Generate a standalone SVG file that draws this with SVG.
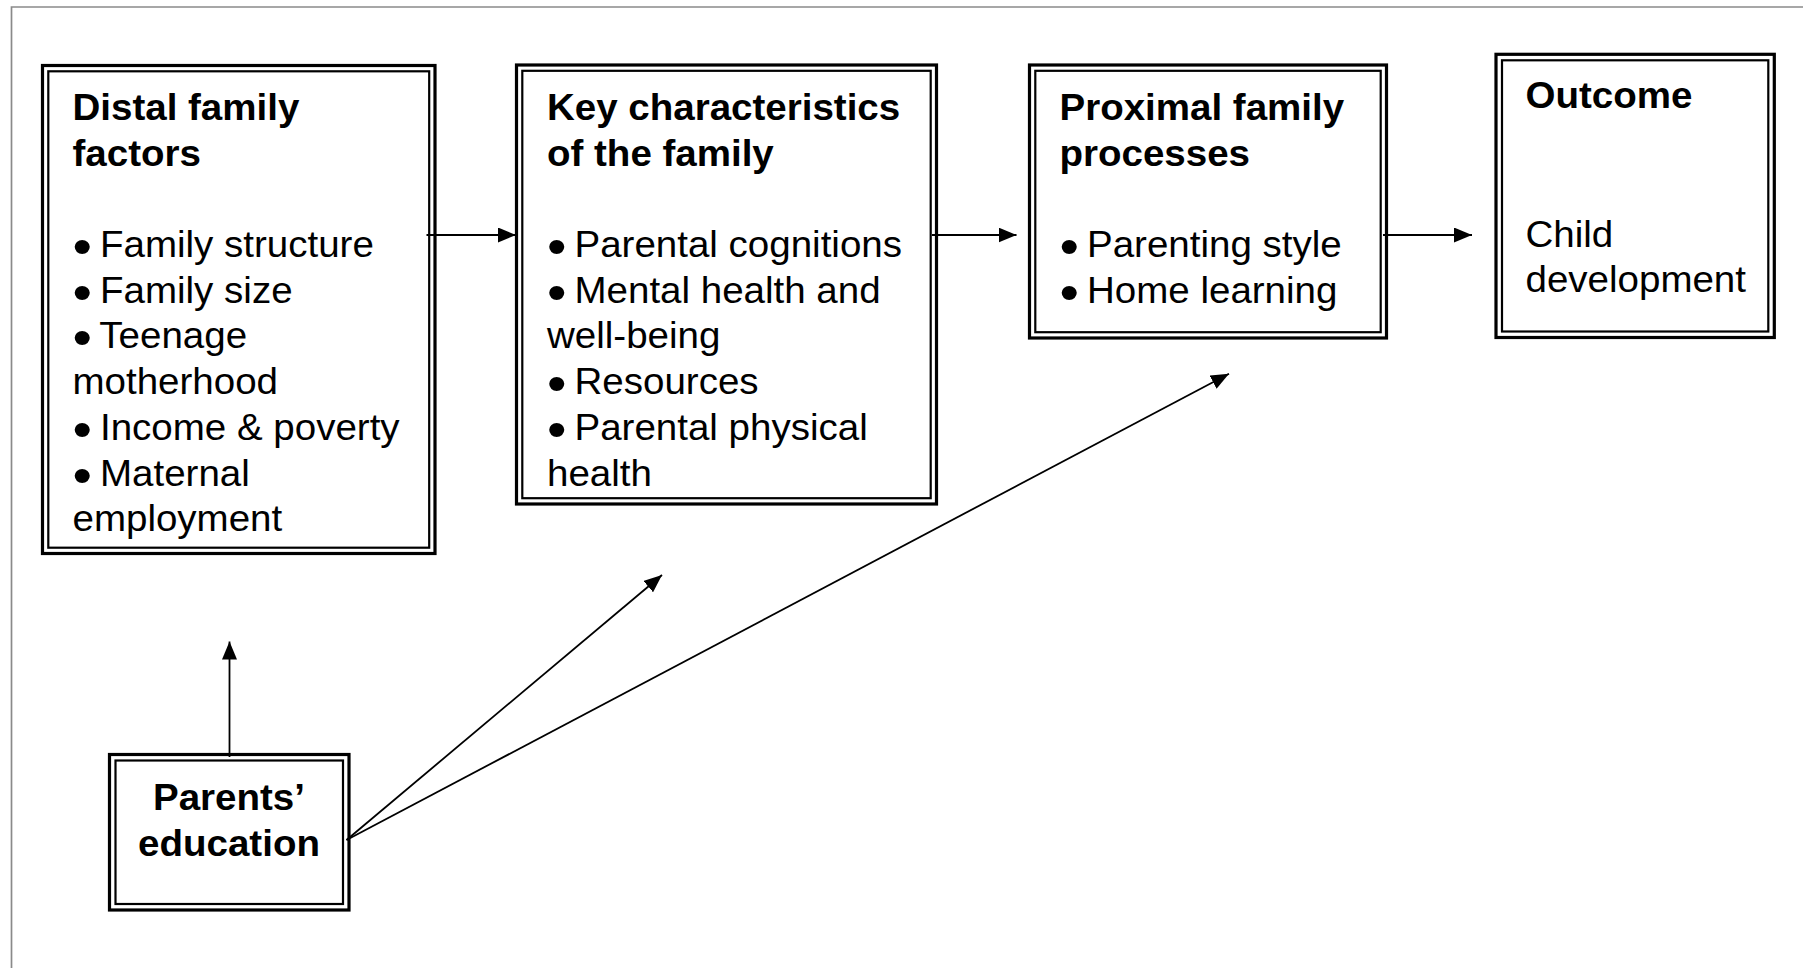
<svg xmlns="http://www.w3.org/2000/svg" width="1803" height="968" viewBox="0 0 1803 968">
<style>
.bg{fill:#ffffff}
.frame{fill:none;stroke:#8a8a8a;stroke-width:1.7}
.ob{fill:#ffffff;stroke:#000;stroke-width:3.2}
.ib{fill:none;stroke:#000;stroke-width:2.2}
.t{font-family:"Liberation Sans",Arial,sans-serif;font-size:36px;fill:#000}
.b{font-weight:bold}
.bl{font-size:52px}
.c{stroke:#000;stroke-width:1.8;fill:none;marker-end:url(#ah)}
</style>
<defs>
<marker id="ah" viewBox="0 0 18 15" refX="18" refY="7.5" markerWidth="18" markerHeight="15" markerUnits="userSpaceOnUse" orient="auto">
<path d="M0,0 L18,7.5 L0,15 z" fill="#000"/>
</marker>
</defs>
<rect class="bg" x="0" y="0" width="1803" height="968"/>
<path class="frame" d="M11.5,968 V7 H1803"/>

<g id="distal">
<rect class="ob" x="42.5" y="65.5" width="392.5" height="488"/>
<rect class="ib" x="48.3" y="71.3" width="380.9" height="476.4"/>
<g transform="translate(72.5,0) scale(1.07,1)">
<text class="t b" x="0" y="120">Distal family</text>
<text class="t b" x="0" y="165.7">factors</text>
<text class="t" x="0" y="257"><tspan class="bl" dy="7">•</tspan><tspan dy="-7" dx="-2.5"> Family structure</tspan></text>
<text class="t" x="0" y="302.8"><tspan class="bl" dy="7">•</tspan><tspan dy="-7" dx="-2.5"> Family size</tspan></text>
<text class="t" x="0" y="348.5"><tspan class="bl" dy="7">•</tspan><tspan dy="-7" dx="-2.5"> Teenage</tspan></text>
<text class="t" x="0" y="394">motherhood</text>
<text class="t" x="0" y="440"><tspan class="bl" dy="7">•</tspan><tspan dy="-7" dx="-2.5"> Income &amp; poverty</tspan></text>
<text class="t" x="0" y="485.6"><tspan class="bl" dy="7">•</tspan><tspan dy="-7" dx="-2.5"> Maternal</tspan></text>
<text class="t" x="0" y="531.3">employment</text>
</g>
</g>

<g id="key">
<rect class="ob" x="516.5" y="65" width="420" height="439"/>
<rect class="ib" x="522.3" y="70.8" width="408.4" height="427.4"/>
<g transform="translate(547,0) scale(1.07,1)">
<text class="t b" x="0" y="120">Key characteristics</text>
<text class="t b" x="0" y="165.7">of the family</text>
<text class="t" x="0" y="257"><tspan class="bl" dy="7">•</tspan><tspan dy="-7" dx="-2.5"> Parental cognitions</tspan></text>
<text class="t" x="0" y="302.8"><tspan class="bl" dy="7">•</tspan><tspan dy="-7" dx="-2.5"> Mental health and</tspan></text>
<text class="t" x="0" y="348.5">well-being</text>
<text class="t" x="0" y="394"><tspan class="bl" dy="7">•</tspan><tspan dy="-7" dx="-2.5"> Resources</tspan></text>
<text class="t" x="0" y="440"><tspan class="bl" dy="7">•</tspan><tspan dy="-7" dx="-2.5"> Parental physical</tspan></text>
<text class="t" x="0" y="485.6">health</text>
</g>
</g>

<g id="proximal">
<rect class="ob" x="1029.5" y="65" width="357" height="273"/>
<rect class="ib" x="1035.3" y="70.8" width="345.4" height="261.4"/>
<g transform="translate(1059.5,0) scale(1.07,1)">
<text class="t b" x="0" y="120">Proximal family</text>
<text class="t b" x="0" y="165.7">processes</text>
<text class="t" x="0" y="257"><tspan class="bl" dy="7">•</tspan><tspan dy="-7" dx="-2.5"> Parenting style</tspan></text>
<text class="t" x="0" y="302.8"><tspan class="bl" dy="7">•</tspan><tspan dy="-7" dx="-2.5"> Home learning</tspan></text>
</g>
</g>

<g id="outcome">
<rect class="ob" x="1496" y="54.3" width="278.3" height="283.2"/>
<rect class="ib" x="1502" y="60.3" width="266.3" height="271.2"/>
<g transform="translate(1525.5,0) scale(1.07,1)">
<text class="t b" x="0" y="108.3">Outcome</text>
<text class="t" x="0" y="246.7">Child</text>
<text class="t" x="0" y="292.5">development</text>
</g>
</g>

<g id="parents">
<rect class="ob" x="109.5" y="754.5" width="239.5" height="155.5"/>
<rect class="ib" x="115.5" y="760.5" width="227.5" height="143.5"/>
<g transform="translate(229,0) scale(1.07,1)">
<text class="t b" x="0" y="810.5" text-anchor="middle">Parents’</text>
<text class="t b" x="0" y="856" text-anchor="middle">education</text>
</g>
</g>

<g id="connectors">
<line class="c" x1="426.5" y1="235" x2="516" y2="235"/>
<line class="c" x1="932" y1="235" x2="1016.5" y2="235"/>
<line class="c" x1="1383" y1="235" x2="1472" y2="235"/>
<line class="c" x1="229.5" y1="757" x2="229.5" y2="641.5"/>
<line class="c" x1="346.5" y1="840" x2="662" y2="575"/>
<line class="c" x1="346.5" y1="840" x2="1229" y2="373.7"/>
</g>
</svg>
